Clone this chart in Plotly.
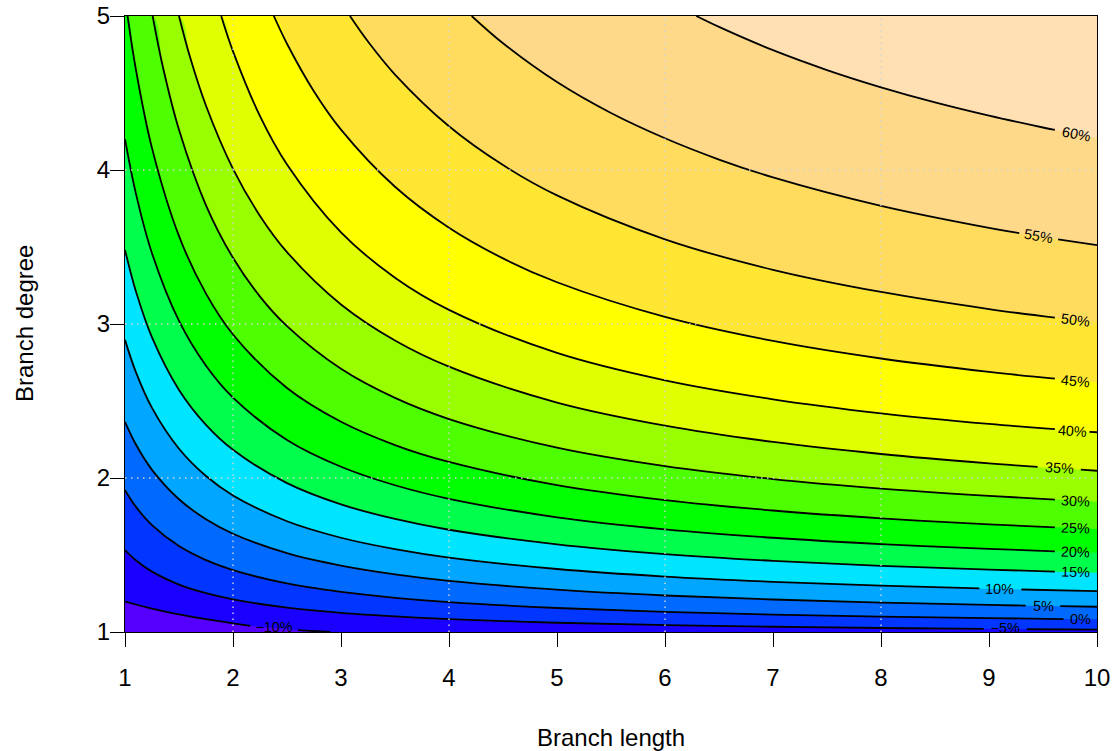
import plotly.graph_objects as go

# ---------------- data ----------------
x_range = [1, 10]
y_range = [1, 5]
x_ticks = [1, 2, 3, 4, 5, 6, 7, 8, 9, 10]
y_ticks = [1, 2, 3, 4, 5]
grid_x = [2, 4, 6, 8]
grid_y = [2, 3, 4]

levels = [-10, -5, 0, 5, 10, 15, 20, 25, 30, 35, 40, 45, 50, 55, 60]
level_text = ["\u221210%", "\u22125%", "0%", "5%", "10%", "15%", "20%", "25%",
              "30%", "35%", "40%", "45%", "50%", "55%", "60%"]

# contour lines (Branch length, Branch degree)
x_m10 = [1, 1.25, 1.5, 1.75, 2, 2.16, 2.6, 2.9]
y_m10 = [1.197, 1.152, 1.115, 1.083, 1.056, 1.040, 1.012, 1.0]

x_m05 = [1, 1.1, 1.25, 1.5, 1.75, 2, 2.5, 3, 3.5, 4, 5, 6, 7, 8, 8.95, 9.35, 10]
y_m05 = [1.532, 1.466, 1.392, 1.308, 1.252, 1.212, 1.158, 1.124, 1.101, 1.084,
         1.060, 1.045, 1.034, 1.026, 1.020, 1.018, 1.015]

x_p00 = [1, 1.1, 1.25, 1.5, 1.75, 2, 2.5, 3, 3.5, 4, 5, 6, 7, 8, 9, 9.69, 10]
y_p00 = [1.921, 1.814, 1.694, 1.558, 1.467, 1.402, 1.315, 1.260, 1.222, 1.194,
         1.156, 1.131, 1.113, 1.100, 1.090, 1.084, 1.082]

x_p05 = [1, 1.1, 1.25, 1.5, 1.75, 2, 2.5, 3, 3.5, 4, 5, 6, 7, 8, 9, 9.34, 9.66, 10]
y_p05 = [2.365, 2.219, 2.053, 1.862, 1.732, 1.638, 1.512, 1.431, 1.374, 1.332,
         1.275, 1.237, 1.211, 1.191, 1.176, 1.171, 1.168, 1.164]

x_p10 = [1, 1.1, 1.25, 1.5, 1.75, 2, 2.5, 3, 3.5, 4, 5, 6, 7, 8, 8.91, 9.3, 10]
y_p10 = [2.897, 2.689, 2.455, 2.190, 2.013, 1.887, 1.719, 1.612, 1.538, 1.483,
         1.409, 1.360, 1.326, 1.301, 1.283, 1.276, 1.266]

x_p15 = [1, 1.1, 1.25, 1.5, 1.75, 2, 2.5, 3, 3.5, 4, 5, 6, 7, 8, 9, 9.61, 10]
y_p15 = [3.481, 3.214, 2.913, 2.572, 2.345, 2.183, 1.967, 1.829, 1.734, 1.664,
         1.569, 1.506, 1.462, 1.430, 1.405, 1.392, 1.385]

x_p20 = [1, 1.1, 1.25, 1.5, 1.75, 2, 2.5, 3, 3.5, 4, 5, 6, 7, 8, 9, 9.61, 10]
y_p20 = [4.200, 3.850, 3.459, 3.020, 2.729, 2.522, 2.247, 2.073, 1.953, 1.865,
         1.745, 1.667, 1.612, 1.571, 1.540, 1.524, 1.515]

x_p25 = [1.024, 1.1, 1.25, 1.5, 1.75, 2, 2.5, 3, 3.5, 4, 5, 6, 7, 8, 9, 9.61, 10]
y_p25 = [5.0, 4.656, 4.142, 3.571, 3.197, 2.932, 2.584, 2.365, 2.214, 2.104,
         1.954, 1.857, 1.789, 1.738, 1.699, 1.680, 1.669]

x_p30 = [1.256, 1.35, 1.5, 1.75, 2, 2.25, 2.5, 3, 3.5, 4, 5, 6, 7, 8, 9, 9.61, 10]
y_p30 = [5.0, 4.672, 4.261, 3.771, 3.430, 3.178, 2.986, 2.709, 2.520, 2.383,
         2.197, 2.077, 1.993, 1.931, 1.884, 1.860, 1.846]

x_p35 = [1.5, 1.6, 1.75, 2, 2.25, 2.5, 3, 3.5, 4, 5, 6, 7, 8, 9, 9.45, 9.85, 10]
y_p35 = [5.0, 4.738, 4.417, 4.007, 3.702, 3.467, 3.127, 2.893, 2.723, 2.490,
         2.340, 2.234, 2.156, 2.095, 2.072, 2.054, 2.047]

x_p40 = [1.891, 2, 2.25, 2.5, 3, 3.5, 4, 5, 6, 7, 8, 9, 9.61, 9.93, 10]
y_p40 = [5.0, 4.770, 4.350, 4.036, 3.595, 3.301, 3.092, 2.812, 2.634, 2.511,
         2.420, 2.351, 2.317, 2.300, 2.297]

x_p45 = [2.378, 2.5, 2.75, 3, 3.5, 4, 4.5, 5, 6, 7, 8, 9, 9.61, 10]
y_p45 = [5.0, 4.820, 4.510, 4.262, 3.891, 3.625, 3.426, 3.271, 3.046, 2.890,
         2.776, 2.689, 2.645, 2.620]

x_p50 = [3.083, 3.25, 3.5, 4, 4.5, 5, 6, 7, 8, 9, 9.61, 10]
y_p50 = [5.0, 4.834, 4.620, 4.284, 4.032, 3.835, 3.550, 3.352, 3.208, 3.097,
         3.041, 3.009]

x_p55 = [4.21, 4.5, 5, 5.5, 6, 6.5, 7, 8, 9, 9.28, 9.64, 10]
y_p55 = [5.0, 4.823, 4.571, 4.370, 4.206, 4.068, 3.952, 3.767, 3.624, 3.590,
         3.550, 3.512]

x_p60 = [6.29, 6.5, 7, 7.5, 8, 8.5, 9, 9.5, 9.61, 10]
y_p60 = [5.0, 4.929, 4.778, 4.649, 4.537, 4.439, 4.353, 4.276, 4.260, 4.207]

# label gaps and label positions along each contour line
gap_start = [2.16, 8.95, 9.69, 9.34, 8.91, 9.61, 9.61, 9.61, 9.61, 9.45, 9.61, 9.61, 9.61, 9.28, 9.61]
gap_end = [2.6, 9.35, 10, 9.66, 9.3, 10, 10, 10, 10, 9.85, 9.93, 10, 10, 9.64, 10]
label_x = [2.38, 9.15, 9.85, 9.5, 9.1, 9.8, 9.8, 9.8, 9.8, 9.65, 9.77, 9.8, 9.8, 9.46, 9.81]
label_y = [1.026, 1.019, 1.083, 1.169, 1.28, 1.388, 1.519, 1.674, 1.853, 2.063,
           2.308, 2.632, 3.025, 3.570, 4.232]
label_angle = [5, 1, 0.6, 1, 1.4, 1.5, 1.9, 2.4, 2.9, 3.8, 4.2, 5.3, 6.6, 9.1, 11]

# fill colour of the band just below each level, and above the top level
band_colors = ["#5500FF", "#1A00FF", "#0036FF", "#006AFF", "#00A6FF", "#00E5FF",
               "#00FF4D", "#00FF00", "#4DFF00", "#99FF00", "#E0FF00", "#FFFF00",
               "#FFE633", "#FFDC5E", "#FFD98A"]
top_color = "#FFE0B3"

curves_x = [x_m10, x_m05, x_p00, x_p05, x_p10, x_p15, x_p20, x_p25,
            x_p30, x_p35, x_p40, x_p45, x_p50, x_p55, x_p60]
curves_y = [y_m10, y_m05, y_p00, y_p05, y_p10, y_p15, y_p20, y_p25,
            y_p30, y_p35, y_p40, y_p45, y_p50, y_p55, y_p60]

FONT = "Liberation Sans, Arial, Helvetica, sans-serif"

fig = go.Figure()

# ---- filled bands: stacked fills from the highest level downward ----
for i in reversed(range(len(levels))):
    fx = list(curves_x[i])
    fy = list(curves_y[i])
    if fy[0] >= y_range[1] and fx[0] > x_range[0]:
        fx.insert(0, x_range[0])
        fy.insert(0, y_range[1])
    if fy[-1] <= y_range[0] and fx[-1] < x_range[1]:
        fx.append(x_range[1])
        fy.append(y_range[0])
    fig.add_trace(go.Scatter(
        x=fx, y=fy, mode="lines",
        line=dict(width=0, shape="spline", smoothing=1.0),
        fill="tozeroy", fillcolor=band_colors[i],
        hoverinfo="skip", showlegend=False))

# ---- contour lines with gaps for the labels ----
for i in range(len(levels)):
    xs, ys = curves_x[i], curves_y[i]
    seg_a = [(a, b) for a, b in zip(xs, ys) if a <= gap_start[i]]
    seg_b = [(a, b) for a, b in zip(xs, ys) if a >= gap_end[i]]
    lx = [p[0] for p in seg_a]
    ly = [p[1] for p in seg_a]
    if len(seg_b) >= 2:
        lx += [None] + [p[0] for p in seg_b]
        ly += [None] + [p[1] for p in seg_b]
    fig.add_trace(go.Scatter(
        x=lx, y=ly, mode="lines",
        line=dict(color="black", width=1.8, shape="spline", smoothing=1.0),
        connectgaps=False, hoverinfo="skip", showlegend=False))

# ---- labels ----
LABEL_SIZE = 14.4
annotations = []
for i in range(len(levels)):
    if label_y[i] - y_range[0] < 0.04:
        # labels touching the bottom edge are clipped like in the original
        fig.add_trace(go.Scatter(
            x=[label_x[i]], y=[label_y[i]], mode="text",
            text=[level_text[i]], textposition="middle center",
            textfont=dict(family=FONT, size=LABEL_SIZE, color="black"),
            cliponaxis=True, hoverinfo="skip", showlegend=False))
    else:
        annotations.append(dict(
            x=label_x[i], y=label_y[i], xref="x", yref="y",
            text=level_text[i], showarrow=False, textangle=label_angle[i],
            font=dict(family=FONT, size=LABEL_SIZE, color="black"),
            xanchor="center", yanchor="middle"))

annotations.append(dict(
    x=0.5, y=(632 - 737) / 616, xref="paper", yref="paper",
    text="Branch length", showarrow=False,
    font=dict(family=FONT, size=24, color="black"),
    xanchor="center", yanchor="middle"))
annotations.append(dict(
    x=(24 - 125) / 972, y=0.5, xref="paper", yref="paper",
    text="Branch degree", showarrow=False, textangle=-90,
    font=dict(family=FONT, size=24, color="black"),
    xanchor="center", yanchor="middle"))

# ---- dotted grid drawn over the fills ----
shapes = []
for gx in grid_x:
    shapes.append(dict(type="line", xref="x", yref="paper", x0=gx, x1=gx, y0=0, y1=1,
                       line=dict(color="#D3D3D3", width=1.4, dash="1.5px,4.5px"),
                       layer="above"))
for gy in grid_y:
    shapes.append(dict(type="line", xref="paper", yref="y", x0=0, x1=1, y0=gy, y1=gy,
                       line=dict(color="#D3D3D3", width=1.4, dash="1.5px,4.5px"),
                       layer="above"))

axis_common = dict(
    showgrid=False, zeroline=False, showline=True, linecolor="black", linewidth=1,
    mirror=True, ticks="outside", ticklen=14, tickwidth=1, tickcolor="black",
    automargin=False,
    tickfont=dict(family=FONT, size=24, color="black"))

fig.update_layout(
    width=1116, height=751,
    margin=dict(l=125, r=19, t=16, b=119, pad=0, autoexpand=False),
    paper_bgcolor="white",
    plot_bgcolor=top_color,
    xaxis=dict(range=x_range, tickvals=x_ticks, ticklabelstandoff=10, **axis_common),
    yaxis=dict(range=y_range, tickvals=y_ticks, ticklabelstandoff=-5, **axis_common),
    annotations=annotations,
    shapes=shapes,
    showlegend=False,
)

fig.write_html(
    "out.html",
    config={"displayModeBar": False, "responsive": False},
    post_script="document.body.style.margin='0px';document.body.style.overflow='hidden';",
)
